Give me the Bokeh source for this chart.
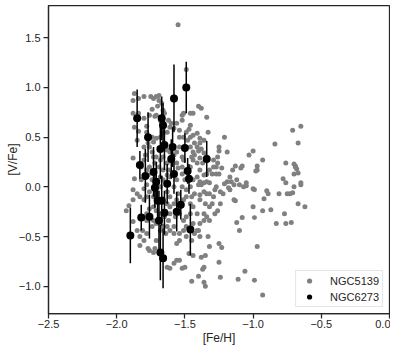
from bokeh.plotting import figure
from bokeh.models import FixedTicker, Range1d, Legend, LegendItem, ColumnDataSource
from bokeh.embed import file_html
from bokeh.resources import INLINE

# NGC5139 (grey points)
pts5139 = [(-1.55,1.63),(-1.49,1.18),
(-0.71,0.57),(-0.65,0.61),(-0.67,0.44),(-0.84,0.43),(-0.93,0.27),(-1.00,0.36),(-1.03,0.32),(-0.97,0.21),(-0.97,0.17),(-0.98,0.16),(-1.08,0.21),(-1.09,0.19),(-0.76,0.24),(-0.70,0.23),(-0.69,0.21),(-0.69,0.20),(-0.68,0.18),(-0.67,0.14),(-0.70,0.13),(-0.78,0.08),(-0.76,0.04),(-0.65,0.02),(-0.65,0.04),(-0.70,0.00),(-0.73,-0.07),(-0.75,-0.07),(-0.71,-0.06),(-0.67,-0.17),(-0.62,-0.20),(-0.77,-0.27),(-0.76,-0.37),(-0.72,-0.36),(-0.83,-0.37),(-0.81,-0.07),(-0.87,-0.23),(-0.90,-0.04),(-0.89,-0.07),(-0.92,-0.12),(-0.93,-0.24),(-1.00,-0.20),(-0.99,-0.31),(-0.97,-0.60),(-0.99,-0.94),(-1.06,-0.85),(-1.11,-0.93),(-1.10,-0.44),(-1.08,-0.31),(-1.12,-0.36),(-1.13,-0.14),(-1.14,-0.13),(-0.93,-1.09),(-1.00,-0.02),(-0.99,-0.03),(-1.05,0.04),(-1.05,0.01),(-1.10,0.02),(-1.14,0.02),(-1.16,0.05),(-1.18,-0.01),(-1.17,-0.03),(-1.15,0.17),(-1.13,0.21),(-1.19,0.05),(-1.19,0.35),(-1.21,0.50),(-1.23,0.19),(-1.25,0.40),(-1.25,0.36),(-1.26,0.30),(-1.26,0.24),(-1.25,0.13),(-1.29,0.27),(-1.27,0.13),(-1.32,0.17),(-1.32,0.04),(-1.34,0.05),(-1.27,0.00),(-1.24,-0.17),(-1.26,-0.24),(-1.28,-0.27),(-1.30,-0.17),(-1.32,-0.20),(-1.29,-0.10),(-1.34,-0.07),(-1.35,-0.17),(-1.36,-0.27),(-1.39,-0.13),(-1.25,-0.57),(-1.23,-0.61),(-1.25,-0.76),(-1.24,-0.91),(-1.33,-0.50),(-1.32,-0.60),(-1.35,-0.69),(-1.38,-0.71),(-1.36,-0.81),(-1.37,-0.83),(-1.36,-0.96),(-1.35,-1.00),(-1.40,-0.90),(-1.45,-0.95),(-1.40,-0.44),(-1.39,-0.50),(-1.43,-0.47),(-1.47,-0.67),(-1.44,-0.69),(-1.50,-0.81),(-1.54,-0.74),(-1.52,-0.82),(-1.56,-0.74),(-1.58,-0.77),(-1.61,-0.82),(-1.63,-0.81),(-1.65,-0.71),(-1.54,-0.54),(-1.56,-0.57),(-1.58,-0.47),(-1.54,-0.47),(-1.61,-0.44),(-1.66,-0.40),(-1.64,-0.47),(-1.58,-0.40),(-1.62,-0.34),(-1.68,-0.44),(-1.71,-0.54),(-1.72,-0.62),(-1.73,-0.66),(-1.76,-0.64),(-1.77,-0.62),(-1.78,-0.47),(-1.80,-0.54),(-1.83,-0.59),(-1.83,-0.50),(-1.81,-0.44),(-1.85,-0.44),(-1.88,-0.35),(-1.93,-0.24),(-1.91,-0.19),(-1.88,-0.13),(-1.88,-0.03),(-1.85,-0.07),(-1.87,0.08),(-1.88,0.29),(-1.85,0.47),(-1.87,0.60),(-1.88,0.74),(-1.88,0.87),(-1.87,0.94),(-1.84,0.89),(-1.80,0.91),(-1.84,0.74),(-1.84,0.56),(-1.78,0.55),(-1.78,0.61),(-1.80,0.69),(-1.76,0.72),(-1.75,0.91),(-1.73,0.89),(-1.71,0.91),(-1.69,0.92),(-1.69,0.87),(-1.67,0.84),(-1.70,0.81),(-1.66,0.77),(-1.74,0.78),(-1.72,0.71),(-1.71,0.72),(-1.68,0.67),(-1.65,0.74),(-1.62,0.67),(-1.61,0.60),(-1.63,0.55),(-1.60,0.64),(-1.58,0.59),(-1.56,0.64),(-1.52,0.72),(-1.51,0.74),(-1.52,0.67),(-1.54,0.57),(-1.49,0.55),(-1.46,0.74),(-1.44,0.74),(-1.40,0.81),(-1.38,0.79),(-1.34,0.70),(-1.46,0.62),(-1.47,0.58),(-1.54,0.50),(-1.51,0.50),(-1.48,0.47),(-1.46,0.50),(-1.44,0.52),(-1.41,0.54),(-1.39,0.49),(-1.36,0.47),(-1.33,0.55),(-1.41,0.40),(-1.39,0.44),(-1.43,0.44),(-1.46,0.40),(-1.44,0.35),(-1.40,0.36),(-1.38,0.38),(-1.36,0.34),(-1.34,0.30),(-1.45,0.30),(-1.43,0.32),(-1.39,0.29),(-1.37,0.24),(-1.41,0.24),(-1.44,0.27),(-1.46,0.20),(-1.39,0.17),(-1.36,0.12),(-1.34,0.13),(-1.30,0.13),(-1.29,0.20),(-1.27,0.20),(-1.41,0.10),(-1.44,0.07),(-1.39,0.05),(-1.40,0.02),(-1.38,0.02),(-1.36,0.04),(-1.54,0.40),(-1.56,0.35),(-1.58,0.32),(-1.52,0.30),(-1.51,0.27),(-1.56,0.24),(-1.52,0.20),(-1.55,0.19),(-1.52,0.13),(-1.56,0.07),(-1.50,0.07),(-1.52,0.00),(-1.55,-0.07),(-1.58,0.00),(-1.61,0.10),(-1.62,0.17),(-1.63,0.24),(-1.61,0.35),(-1.63,0.37),(-1.66,0.30),(-1.68,0.27),(-1.71,0.30),(-1.73,0.30),(-1.74,0.35),(-1.76,0.40),(-1.73,0.45),(-1.71,0.49),(-1.68,0.50),(-1.66,0.54),(-1.74,0.50),(-1.77,0.44),(-1.80,0.40),(-1.79,0.32),(-1.80,0.27),(-1.82,0.20),(-1.78,0.17),(-1.76,0.20),(-1.77,0.12),(-1.74,0.07),(-1.78,0.02),(-1.80,-0.02),(-1.82,0.07),(-1.83,-0.10),(-1.80,-0.13),(-1.78,-0.10),(-1.76,-0.05),(-1.73,-0.10),(-1.71,-0.07),(-1.68,0.00),(-1.66,0.07),(-1.63,0.12),(-1.66,0.17),(-1.69,0.20),(-1.72,0.24),(-1.68,0.10),(-1.71,0.05),(-1.63,-0.05),(-1.61,-0.10),(-1.66,-0.12),(-1.63,-0.17),(-1.61,-0.20),(-1.58,-0.17),(-1.56,-0.13),(-1.54,-0.20),(-1.51,-0.13),(-1.49,-0.10),(-1.46,-0.17),(-1.44,-0.20),(-1.41,-0.27),(-1.46,-0.27),(-1.49,-0.30),(-1.51,-0.34),(-1.54,-0.27),(-1.57,-0.30),(-1.61,-0.27),(-1.65,-0.30),(-1.68,-0.27),(-1.71,-0.24),(-1.73,-0.20),(-1.76,-0.22),(-1.78,-0.27),(-1.80,-0.30),(-1.78,-0.34),(-1.73,-0.34),(-1.71,-0.37),(-1.74,-0.40),(-1.63,-0.40),(-1.49,-0.40),(-1.44,-0.37),(-1.41,-0.44),(-1.51,-0.44),(-1.49,-0.50),(-1.45,-0.54),(-1.39,-0.37),(-1.36,-0.34),(-1.34,-0.30),(-1.32,-0.34),(-1.46,0.00),(-1.49,-0.03),(-1.43,-0.07),(-1.45,-0.10),(-1.39,-0.08),(-1.36,-0.05),(-1.32,-0.07),(-1.28,-0.03),(-1.24,-0.05),(-1.22,-0.07),(-1.21,0.03),(-1.17,0.10),(-1.12,0.07),(-1.07,0.00)]
fe5139 = [a for a, b in pts5139]
v5139 = [b for a, b in pts5139]

# NGC6273 (black points with error bars)
fe6273 = [-1.85,-1.90,-1.83,-1.82,-1.79,-1.77,-1.76,-1.73,-1.72,-1.71,-1.70,-1.69,-1.68,-1.68,-1.67,-1.67,-1.66,-1.66,-1.65,-1.65,-1.63,-1.60,-1.59,-1.58,-1.58,-1.56,-1.53,-1.49,-1.50,-1.48,-1.47,-1.46,-1.34]
v6273 = [0.69,-0.49,0.22,-0.31,0.11,0.50,-0.30,0.15,-0.01,0.05,-0.14,-0.34,-0.66,0.38,-0.14,0.69,0.62,-0.72,-0.26,0.42,0.03,0.28,0.40,0.13,0.89,-0.25,-0.18,1.00,0.39,0.16,0.08,-0.43,0.28]
err6273 = [0.29,0.28,0.14,0.13,0.27,0.25,0.22,0.25,0.20,0.20,0.20,0.30,0.28,0.30,0.25,0.22,0.22,0.30,0.22,0.25,0.20,0.20,0.20,0.20,0.34,0.20,0.15,0.26,0.15,0.13,0.15,0.26,0.18]

xticks = [-2.5, -2.0, -1.5, -1.0, -0.5, 0.0]
yticks = [-1.0, -0.5, 0.0, 0.5, 1.0, 1.5]

def fmt(v):
    s = "%.1f" % abs(v)
    return ("\u2212" + s) if v < 0 else s

FONT = "Liberation Sans"
EDGE = "#262626"

p = figure(width=390, height=350, output_backend="svg", toolbar_location=None,
           x_range=Range1d(-2.5, 0.0), y_range=Range1d(-1.275, 1.825),
           min_border_left=48, min_border_right=1, min_border_top=5, min_border_bottom=37)

p.grid.visible = False
p.outline_line_color = EDGE
p.outline_line_width = 1.25

src5 = ColumnDataSource(dict(x=fe5139, y=v5139))
src6 = ColumnDataSource(dict(x=fe6273, y=v6273,
                             lo=[v - e for v, e in zip(v6273, err6273)],
                             hi=[v + e for v, e in zip(v6273, err6273)]))

r5 = p.scatter("x", "y", source=src5, size=5, color="#808080", line_color=None)
p.segment(x0="x", y0="lo", x1="x", y1="hi", source=src6, line_color="black", line_width=1.5)
r6 = p.scatter("x", "y", source=src6, size=8, color="black", line_color=None)

for ax, ticks in ((p.xaxis[0], xticks), (p.yaxis[0], yticks)):
    ax.ticker = FixedTicker(ticks=ticks)
    ax.major_label_overrides = {t: fmt(t) for t in ticks}
    ax.minor_tick_line_color = None
    ax.major_tick_in = 0
    ax.major_tick_out = 5
    ax.major_tick_line_color = EDGE
    ax.major_tick_line_width = 1.25
    ax.axis_line_color = EDGE
    ax.axis_line_width = 1.25
    ax.major_label_text_font = FONT
    ax.major_label_text_font_size = "11px"
    ax.major_label_text_color = EDGE
    ax.axis_label_text_font = FONT
    ax.axis_label_text_font_size = "12px"
    ax.axis_label_text_font_style = "normal"
    ax.axis_label_text_color = EDGE

p.xaxis.major_label_standoff = 1
p.yaxis.major_label_standoff = 3
p.xaxis.axis_label = "[Fe/H]"
p.yaxis.axis_label = "[V/Fe]"
p.xaxis.axis_label_standoff = 0
p.yaxis.axis_label_standoff = -4

legend = Legend(items=[LegendItem(label="NGC5139", renderers=[r5]),
                       LegendItem(label="NGC6273", renderers=[r6])],
                location="bottom_right")
legend.label_text_font = FONT
legend.label_text_font_size = "11px"
legend.label_text_color = EDGE
legend.border_line_color = "#cccccc"
legend.border_line_width = 1
legend.background_fill_alpha = 0.8
legend.margin = 6
legend.padding = 3
legend.spacing = 3
legend.glyph_width = 20
legend.glyph_height = 13
legend.label_height = 13
legend.label_standoff = 11
p.add_layout(legend)

open("out.html", "w").write(file_html(p, INLINE))
